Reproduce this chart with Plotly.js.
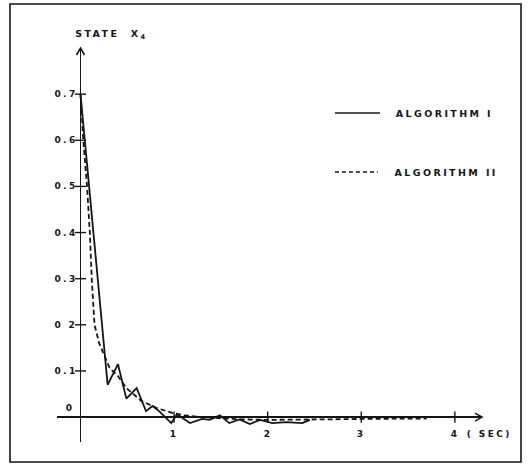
<!DOCTYPE html>
<html>
<head>
<meta charset="utf-8">
<script src="https://cdn.plot.ly/plotly-3.0.1.min.js"></script>
<style>
  html, body { margin: 0; padding: 0; background: #fff; }
  #chart text { letter-spacing: 2.4px; }
</style>
</head>
<body>
<div id="chart" style="width:528px;height:466px;"></div>
<script>
// ---- data ----
const timeAlg1 = [0, 0.29, 0.40, 0.49, 0.60, 0.70, 0.77, 0.84, 0.97, 1.03, 1.17, 1.30, 1.38, 1.49, 1.59, 1.70, 1.81, 1.92, 2.05, 2.20, 2.37, 2.45];
const stateAlg1 = [0.70, 0.07, 0.115, 0.04, 0.063, 0.013, 0.024, 0.013, -0.013, 0.006, -0.013, -0.004, -0.006, 0.004, -0.013, -0.005, -0.015, -0.006, -0.013, -0.011, -0.013, -0.006];

const timeAlg2 = [0, 0.03, 0.07, 0.10, 0.12, 0.15, 0.20, 0.235, 0.31, 0.40, 0.49, 0.65, 0.81, 0.98, 1.10, 1.30, 1.50, 1.70, 2.00, 2.30, 2.60, 3.00, 3.40, 3.70];
const stateAlg2 = [0.70, 0.60, 0.50, 0.40, 0.30, 0.20, 0.16, 0.143, 0.107, 0.089, 0.063, 0.035, 0.020, 0.009, 0.004, 0.000, -0.003, -0.005, -0.006, -0.006, -0.005, -0.004, -0.003, -0.003];

const seriesNames = ["ALGORITHM I", "ALGORITHM II"];
const yTickVals = [0.1, 0.2, 0.3, 0.4, 0.5, 0.6, 0.7];
const yTickText = ["0.1", "0 2", "0.3", "0.4", "0.5", "0.6", "0.7"];
const xTickVals = [1, 2, 3, 4];
const xTickText = ["1", "2", "3", "4"];
const xUnit = "( SEC)";
const yTitle = "STATE  X<sub>4</sub>";

// ---- style ----
const ink = "#151515";
const fnt = { family: "DejaVu Sans, Liberation Sans, sans-serif", size: 9, color: ink, weight: "bold" };
const fntBig = Object.assign({}, fnt, { size: 9.5 });
const dashPat = "5px,3px";

const traces = [
  { x: timeAlg1, y: stateAlg1, mode: "lines", name: seriesNames[0],
    line: { color: ink, width: 1.8 } },
  { x: timeAlg2, y: stateAlg2, mode: "lines", name: seriesNames[1],
    line: { color: ink, width: 1.8, dash: dashPat } },
  // tick crosses on the axes
  { x: yTickVals.map(() => 0), y: yTickVals, mode: "markers", hoverinfo: "skip",
    marker: { symbol: "line-ew", size: 8, line: { color: ink, width: 1.4 } } },
  { x: xTickVals, y: xTickVals.map(() => 0), mode: "markers", hoverinfo: "skip",
    marker: { symbol: "line-ns", size: 8, line: { color: ink, width: 1.4 } } }
];

const annotations = [];
yTickVals.forEach((v, i) => annotations.push({
  x: 0, y: v, xref: "x", yref: "y", text: yTickText[i], showarrow: false,
  xanchor: "right", yanchor: "middle", xshift: -4, font: fnt
}));
annotations.push({ x: 0, y: 0, xref: "x", yref: "y", text: "0", showarrow: false,
  xanchor: "right", yanchor: "bottom", xshift: -5, yshift: 2, font: fnt });
xTickVals.forEach((v, i) => annotations.push({
  x: v, y: 0, xref: "x", yref: "y", text: xTickText[i], showarrow: false,
  xanchor: "center", yanchor: "top", yshift: -10, font: fnt
}));
annotations.push({ x: 4, y: 0, xref: "x", yref: "y", text: xUnit, showarrow: false,
  xanchor: "left", yanchor: "top", xshift: 17, yshift: -10, font: fnt });
annotations.push({ x: 0, y: 1, xref: "x", yref: "paper", text: yTitle, showarrow: false,
  xanchor: "left", yanchor: "bottom", xshift: 4, yshift: 5, font: fntBig });
// legend texts
const legX = 0.824, legY = [0.835, 0.685];
seriesNames.forEach((n, i) => annotations.push({
  x: legX, y: legY[i], xref: "paper", yref: "paper", text: n, showarrow: false,
  xanchor: "left", yanchor: "middle", font: fntBig
}));

const shapes = [
  // outer frame
  { type: "rect", xref: "paper", yref: "paper", x0: -0.1106, x1: 1.0918, y0: -0.0508, y1: 1.1117,
    line: { color: ink, width: 1.6 } },
  // legend samples
  { type: "line", xref: "paper", yref: "paper", x0: 0.654, x1: 0.760, y0: legY[0], y1: legY[0],
    line: { color: ink, width: 1.5 } },
  { type: "line", xref: "paper", yref: "paper", x0: 0.654, x1: 0.755, y0: legY[1], y1: legY[1],
    line: { color: ink, width: 1.5, dash: "4px,3px" } },
  // axis arrowheads (chevrons)
  { type: "path", xref: "paper", yref: "y", xsizemode: "pixel", ysizemode: "pixel",
    xanchor: 1, yanchor: 0, path: "M-7,-4 L0,0 L-7,4", line: { color: ink, width: 1.5 } },
  { type: "path", xref: "x", yref: "paper", xsizemode: "pixel", ysizemode: "pixel",
    xanchor: 0, yanchor: 1, path: "M-4,-7 L0,0 L4,-7", line: { color: ink, width: 1.6 } }
];

const layout = {
  width: 528, height: 466,
  margin: { l: 57, r: 46, t: 48, b: 24 },
  paper_bgcolor: "#fff", plot_bgcolor: "#fff",
  font: fnt,
  showlegend: false,
  xaxis: { range: [-0.251, 4.29], showgrid: false, showticklabels: false, ticks: "",
    zeroline: true, zerolinecolor: ink, zerolinewidth: 1.4, showline: false, fixedrange: true },
  yaxis: { range: [-0.054, 0.80], showgrid: false, showticklabels: false, ticks: "",
    zeroline: true, zerolinecolor: ink, zerolinewidth: 1.4, showline: false, fixedrange: true },
  annotations: annotations,
  shapes: shapes
};

Plotly.newPlot("chart", traces, layout, { displayModeBar: false, staticPlot: true });
</script>
</body>
</html>
